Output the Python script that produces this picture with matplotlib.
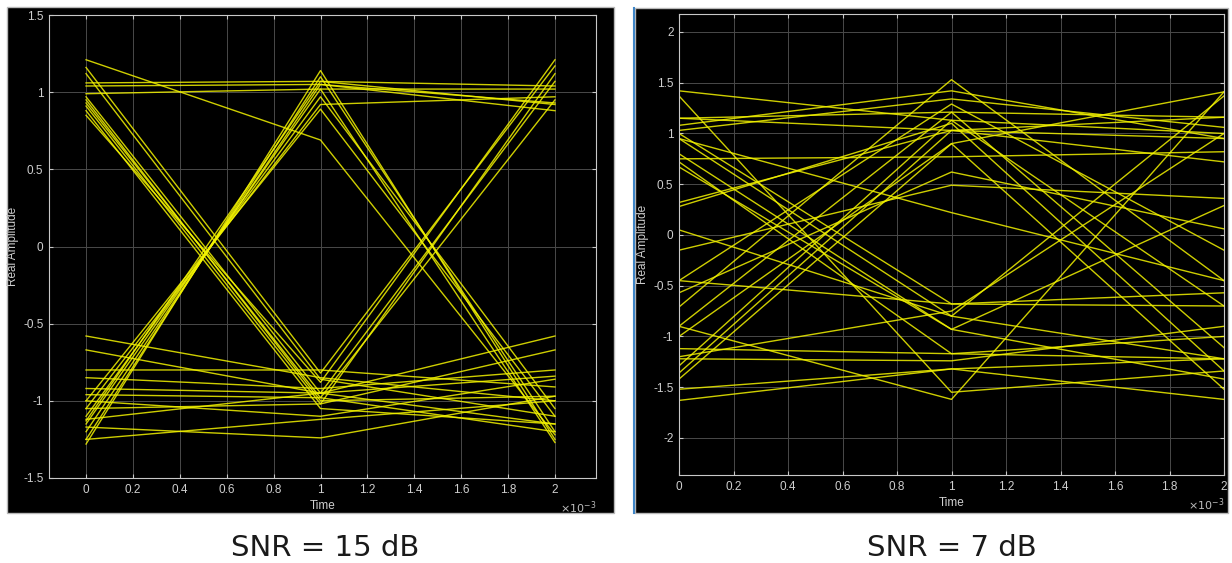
import matplotlib
matplotlib.use('Agg')
import matplotlib.pyplot as plt
from matplotlib.patches import Rectangle
from matplotlib.lines import Line2D
from matplotlib.ticker import FuncFormatter, MultipleLocator

W, H = 1232, 563

# instantes de amostragem de cada traço do diagrama de olho (s)
tempo = [0, 1e-3, 2e-3]

# SNR = 15 dB : amplitude em t=0, t=1ms e t=2ms de cada traço
snr15_ini = [1.21, 1.16, 1.12, 0.97, 0.95, 0.93, 0.91, 0.88, 0.85, 1.06, 1.04, 0.99,
             -1.28, -1.25, -1.20, -1.15, -1.10, -1.05, -1.00, -1.13,
             -0.58, -0.67, -0.80, -0.85, -0.92, -0.96, -1.00, -1.05, -1.12, -1.25, -1.17]
snr15_meio = [0.69, -0.82, -0.86, -0.95, -1.00, -0.98, -1.02, -1.05, -0.88, 1.07, 1.05, 1.02,
              1.14, 1.10, 1.05, 1.02, 0.97, 0.92, 0.89, 1.07,
              -0.85, -0.95, -0.80, -0.92, -0.95, -0.98, -1.10, -1.02, -0.95, -1.12, -1.24]
snr15_fim = [-1.22, 1.17, -1.10, 1.07, -0.97, 0.95, 1.12, -1.15, 1.21, 0.92, 0.93, 1.02,
             -1.25, -1.20, 0.88, -1.27, -1.05, 0.97, -1.10, 1.04,
             -1.00, -1.15, -0.91, -0.80, -0.84, -1.20, -0.86, -0.67, -0.58, -1.00, -0.97]

# SNR = 7 dB
snr7_ini = [1.42, 1.37, 1.15, 1.08, 1.03, 1.00, 0.95, 0.80, 0.75, 0.72, 0.67, 0.32, 0.05,
            -0.15, -0.45, -0.57, -0.71, -0.90, -1.00, -1.12, -1.22, -1.29, -1.36, -1.42,
            -1.52, -1.63, -0.90, 1.15, -0.45, 0.95, 0.28, -1.20]
snr7_meio = [1.13, -1.55, 1.21, 1.42, 1.34, -0.68, -0.80, -0.93, 0.77, -1.17, -0.93, 1.03, -0.80,
             0.49, 1.29, 0.62, 1.53, 1.21, 0.90, -1.17, -1.24, 1.13, 1.03, 0.90,
             -1.32, -1.32, -1.62, 1.03, -0.68, 0.22, 1.10, -0.75]
snr7_fim = [1.00, -1.34, 1.16, 0.95, 1.06, -0.57, 1.37, -1.42, 0.82, -1.00, 0.29, 0.72, -1.22,
            0.36, -0.15, 0.06, -0.45, -1.11, 1.41, -1.22, -0.90, -0.70, 0.95, -1.52,
            -1.62, -1.22, 1.41, 1.16, -0.70, -0.45, -1.34, 1.00]


def caixa(x0, y0, x1, y1):
    # converte pixels da imagem em coordenadas da figura
    return [x0 / W, 1 - y1 / H, (x1 - x0) / W, (y1 - y0) / H]


def desenhar_olho(fig, fundo, ret, ini, meio, fim, xlim, ylim, yticks):
    b = caixa(*fundo)
    fig.add_artist(Rectangle((b[0], b[1]), b[2], b[3], transform=fig.transFigure,
                             facecolor='black', edgecolor='#b8b8b8', lw=1, zorder=0))
    ax = fig.add_axes(caixa(*ret), facecolor='black')
    for a, m, f in zip(ini, meio, fim):
        ax.plot(tempo, [a, m, f], color='#f2f200', lw=1.0, alpha=0.85)
    ax.set_xlim(*xlim)
    ax.set_ylim(*ylim)
    ax.xaxis.set_major_locator(MultipleLocator(0.2e-3))
    ax.xaxis.set_major_formatter(FuncFormatter(lambda v, p: f'{round(v * 1e3, 1):g}'))
    ax.set_yticks(yticks)
    ax.yaxis.set_major_formatter(FuncFormatter(lambda v, p: f'{v:g}'))
    ax.grid(True, color='#4a4a4a', lw=0.7)
    for s in ax.spines.values():
        s.set_color('#c8c8c8')
        s.set_linewidth(0.8)
    ax.tick_params(direction='in', top=True, right=True, length=3, color='#c8c8c8',
                   labelcolor='#cfcfcf', labelsize=8.5, pad=4)
    ax.set_xlabel('Time', color='#cfcfcf', fontsize=8.5, labelpad=3)
    ax.set_ylabel('Real Amplitude', color='#cfcfcf', fontsize=8.5, labelpad=3)
    ax.text(1.0, -0.065, r'$\times10^{-3}$', transform=ax.transAxes, ha='right',
            va='center', color='#bdbdbd', fontsize=8)
    return ax


fig = plt.figure(figsize=(W / 100, H / 100), dpi=100, facecolor='white')
plt.rcParams['font.family'] = ['Liberation Sans', 'DejaVu Sans']

desenhar_olho(fig, (7, 7, 614, 513), (49, 15, 596, 478), snr15_ini, snr15_meio, snr15_fim,
              (-0.158e-3, 2.175e-3), (-1.5, 1.5), [-1.5, -1, -0.5, 0, 0.5, 1, 1.5])
desenhar_olho(fig, (635, 8, 1228, 513), (679, 14, 1224, 475), snr7_ini, snr7_meio, snr7_fim,
              (0, 2e-3), (-2.365, 2.177), [-2, -1.5, -1, -0.5, 0, 0.5, 1, 1.5, 2])

# linha azul na borda do segundo painel
fig.add_artist(Line2D([634 / W, 634 / W], [1 - 513 / H, 1 - 8 / H], transform=fig.transFigure,
                      color='#3f86c8', lw=1.5))

fig.text(325 / W, 1 - 548 / H, 'SNR = 15 dB', ha='center', va='center', fontsize=21,
         color='#1a1a1a', family='DejaVu Sans')
fig.text(952 / W, 1 - 548 / H, 'SNR = 7 dB', ha='center', va='center', fontsize=21,
         color='#1a1a1a', family='DejaVu Sans')

try:
    fig.savefig('out.png', dpi=100, facecolor='white')
except Exception as e:
    print(f"Erro ao salvar a figura: {e}")
plt.close(fig)
